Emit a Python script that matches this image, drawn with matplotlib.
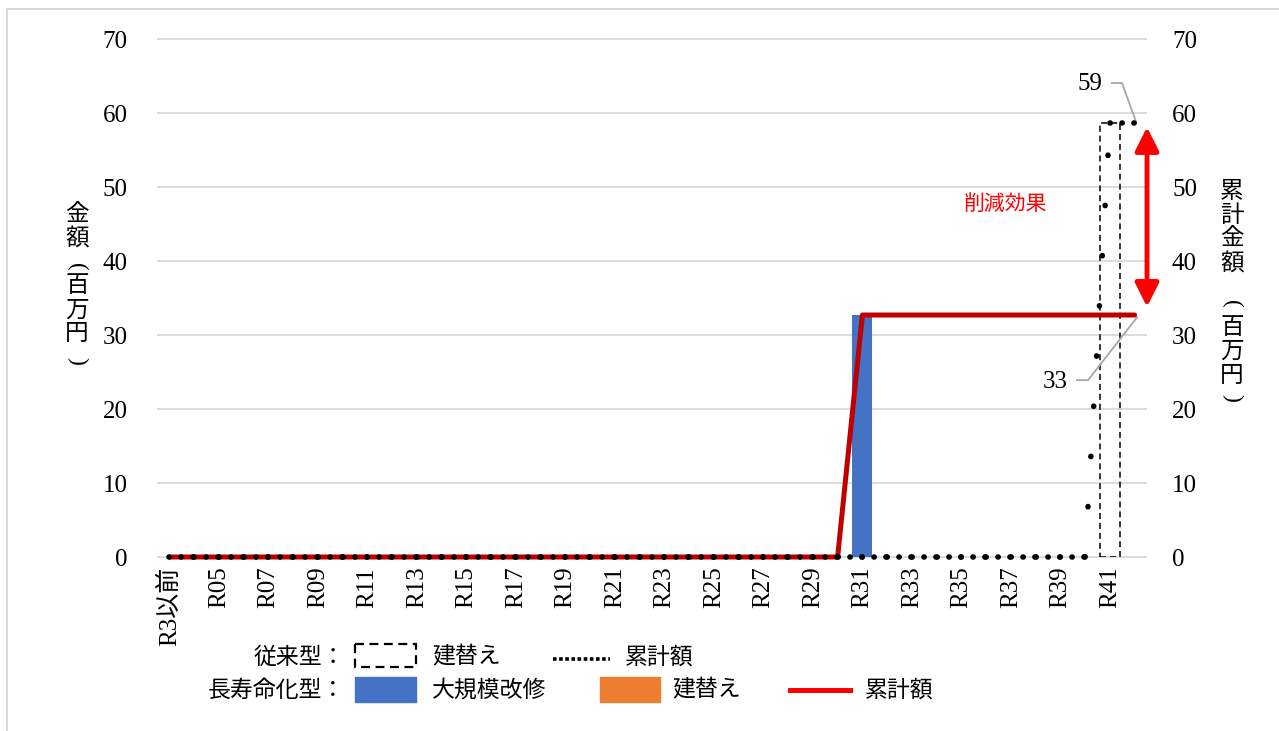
import numpy as np
import matplotlib
matplotlib.use('Agg')
import matplotlib.pyplot as plt
from matplotlib.patches import Rectangle
from matplotlib.lines import Line2D

serif = ['Liberation Serif', 'Noto Sans CJK JP']
jp = ['Noto Sans CJK JP', 'DejaVu Sans']
plt.rcParams['font.family'] = serif

# ---------------------------------------------------------------- data
categories = ['R3以前'] + ['R%02d' % i for i in range(4, 43)]

# 従来型 建替え (百万円)
conv_rebuild = [0, 0, 0, 0, 0, 0, 0, 0, 0, 0,        # R3以前-R12
                0, 0, 0, 0, 0, 0, 0, 0, 0, 0,        # R13-R22
                0, 0, 0, 0, 0, 0, 0, 0, 0, 0,        # R23-R32
                0, 0, 0, 0, 0, 0, 0, 0, 58.7, 0]     # R33-R42
# 従来型 累計額
conv_cumulative = [0, 0, 0, 0, 0, 0, 0, 0, 0, 0,
                   0, 0, 0, 0, 0, 0, 0, 0, 0, 0,
                   0, 0, 0, 0, 0, 0, 0, 0, 0, 0,
                   0, 0, 0, 0, 0, 0, 0, 0, 58.7, 58.7]
# 長寿命化型 大規模改修
long_major = [0, 0, 0, 0, 0, 0, 0, 0, 0, 0,
              0, 0, 0, 0, 0, 0, 0, 0, 0, 0,
              0, 0, 0, 0, 0, 0, 0, 0, 32.7, 0,
              0, 0, 0, 0, 0, 0, 0, 0, 0, 0]
# 長寿命化型 建替え
long_rebuild = [0, 0, 0, 0, 0, 0, 0, 0, 0, 0,
                0, 0, 0, 0, 0, 0, 0, 0, 0, 0,
                0, 0, 0, 0, 0, 0, 0, 0, 0, 0,
                0, 0, 0, 0, 0, 0, 0, 0, 0, 0]
# 長寿命化型 累計額
long_cumulative = [0, 0, 0, 0, 0, 0, 0, 0, 0, 0,
                   0, 0, 0, 0, 0, 0, 0, 0, 0, 0,
                   0, 0, 0, 0, 0, 0, 0, 0, 32.7, 32.7,
                   32.7, 32.7, 32.7, 32.7, 32.7, 32.7, 32.7, 32.7, 32.7, 32.7]

yticks = [0, 10, 20, 30, 40, 50, 60, 70]

W, H = 1279, 731
x = np.arange(len(categories))

fig = plt.figure(figsize=(W / 100, H / 100), dpi=100)

# overlay for border, legend and vertical titles, in pixel coords
lax = fig.add_axes([0, 0, 1, 1])
lax.set_xlim(0, W)
lax.set_ylim(H, 0)
lax.axis('off')
lax.plot([7, 7, W], [H, 9, 9], color='#D9D9D9', lw=1.5)

ax = fig.add_axes([157 / W, 1 - 557 / H, 990 / W, 518 / H])
ax.set_facecolor('none')
ax.set_xlim(-0.5, len(categories) - 0.5)
ax.set_ylim(0, 70)
ax.hlines(yticks, -0.5, len(categories) - 0.5, color='#D9D9D9', lw=1.3,
          zorder=0, clip_on=False)

m = np.array(long_major) > 0
ax.bar(x[m], np.array(long_major)[m], width=0.8, color='#4472C4', zorder=2)
m = np.array(long_rebuild) > 0
ax.bar(x[m], np.array(long_rebuild)[m], width=0.8, color='#ED7D31', zorder=2)
m = np.array(conv_rebuild) > 0
ax.bar(x[m], np.array(conv_rebuild)[m], width=0.8, fill=False, edgecolor='black',
       linestyle=(0, (4, 2.5)), linewidth=1.1, zorder=3)

for s in ax.spines.values():
    s.set_visible(False)
ax.set_yticks(yticks)
ax.tick_params(axis='y', length=0, pad=21, labelsize=18)
ax.set_xticks(x[::2])
ax.set_xticklabels(categories[::2], rotation=90)
ax.tick_params(axis='x', length=0, pad=7, labelsize=18)

ax2 = ax.twinx()
ax2.set_ylim(0, 70)
ax2.set_yticks(yticks)
ax2.tick_params(axis='y', length=0, pad=18, labelsize=18)
for s in ax2.spines.values():
    s.set_visible(False)

ax2.plot(x, long_cumulative, color='#C00000', lw=3.6, solid_joinstyle='round',
         solid_capstyle='round', zorder=3, clip_on=False)
# dotted cumulative, pattern restarts on each segment (like the original)
for i in range(len(x) - 1):
    seg = conv_cumulative[i:i + 2]
    gap = 2.1 if seg[0] == seg[1] else 9.0
    ax2.plot(x[i:i + 2], seg, color='black', lw=4.0, linestyle=(0, (0.05, gap)),
             dash_capstyle='round', zorder=4, clip_on=False)

# end labels
xe = x[-1]
ye = conv_cumulative[-1]
ax2.text(xe - 1.3, ye + 5.2, '%.0f' % ye, ha='right', va='center', fontsize=18)
ax2.plot([xe - 0.92, xe - 0.51, xe + 0.06], [ye + 5.35, ye + 5.35, ye + 0.1],
         color='#A6A6A6', lw=1.3, clip_on=False)
ye2 = long_cumulative[-1]
ax2.text(xe - 2.7, ye2 - 9.05, '%.0f' % ye2, ha='right', va='center', fontsize=18)
ax2.plot([xe - 2.33, xe - 1.88, xe + 0.1], [ye2 - 8.8, ye2 - 8.8, ye2 - 0.3],
         color='#A6A6A6', lw=1.3, clip_on=False)

# reduction arrow
ax2.annotate('', xy=(len(categories) - 0.5, 58.1), xytext=(len(categories) - 0.5, 33.8),
             arrowprops=dict(arrowstyle='<|-|>,head_length=1.2,head_width=0.6',
                             color='#FF0000', lw=3.5, mutation_scale=12,
                             shrinkA=0, shrinkB=0),
             annotation_clip=False)
ax2.text(33.8, 47.7, '削減効果', color='#FF0000', fontsize=15, family=jp,
         ha='center', va='center')


# vertical axis titles, one character at a time (brackets turned)
def vtitle(xc, chars, ys):
    for c, yc in zip(chars, ys):
        if c in '()':
            lax.text(xc, yc, c, family='Liberation Serif', fontsize=17, rotation=-90,
                     ha='center', va='center')
        else:
            lax.text(xc, yc, c, family=jp, fontsize=17, ha='center', va='center')


vtitle(77, '金額(百万円)', [214, 239, 267, 286, 310, 334, 361])
vtitle(1232, '累計金額(百万円)', [191, 215, 239, 264, 304, 327, 351, 375, 398])

# legend
fs = 16.5
lax.text(345, 657, '従来型：', ha='right', va='center', family=jp, fontsize=fs)
lax.add_patch(Rectangle((355, 644), 61, 23, fill=False, ec='black',
                        ls=(0, (4, 2.5)), lw=1.6))
lax.text(432, 657, '建替え', ha='left', va='center', family=jp, fontsize=fs)
lax.add_line(Line2D([553, 610], [659, 659], color='black', lw=2.6, ls=(0, (1, 0.7))))
lax.text(625, 657, '累計額', ha='left', va='center', family=jp, fontsize=fs)

lax.text(345, 690, '長寿命化型：', ha='right', va='center', family=jp, fontsize=fs)
lax.add_patch(Rectangle((355, 677), 61, 25, color='#4472C4'))
lax.text(432, 690, '大規模改修', ha='left', va='center', family=jp, fontsize=fs)
lax.add_patch(Rectangle((600, 677), 60, 25, color='#ED7D31'))
lax.text(672, 690, '建替え', ha='left', va='center', family=jp, fontsize=fs)
lax.add_line(Line2D([790, 850], [690, 690], color='#FF0000', lw=3.6))
lax.text(865, 690, '累計額', ha='left', va='center', family=jp, fontsize=fs)

fig.savefig('out.png', dpi=100)
